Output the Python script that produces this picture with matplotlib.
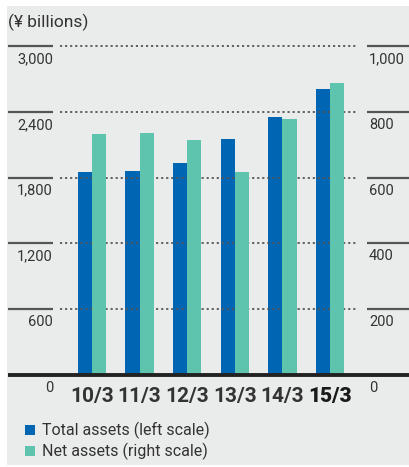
import matplotlib
matplotlib.use("Agg")
import matplotlib.pyplot as plt
from matplotlib.patches import Rectangle
import numpy as np

plt.rcParams["font.family"] = ["Liberation Sans Narrow", "Roboto", "DejaVu Sans"]

# data (¥ billions)
periods = ["10/3", "11/3", "12/3", "13/3", "14/3", "15/3"]
total_assets = [1855, 1864, 1936, 2155, 2355, 2609]   # left scale
net_assets = [733, 736, 715, 618, 779, 888]           # right scale
left_ticks = [0, 600, 1200, 1800, 2400, 3000]
right_ticks = [0, 200, 400, 600, 800, 1000]

blue = "#0066b3"
green = "#5fc4ae"
bg = "#eaeceb"

W, H = 409, 467
fig = plt.figure(figsize=(W / 100, H / 100), dpi=100)
fig.patch.set_facecolor("white")
fig.patches.append(Rectangle((7 / W, 2 / H), 1, (H - 8) / H, transform=fig.transFigure,
                             facecolor=bg, edgecolor="none", zorder=-10))

# axes span x 8..409 px, y baseline 375 px .. 3000 at 46 px
ax = fig.add_axes([8 / W, (H - 375) / H, (W - 8) / W, (375 - 46) / H])
ax.set_facecolor("none")
ax2 = ax.twinx()
ax.set_zorder(1)
ax2.set_zorder(2)
ax2.set_facecolor("none")

x = np.arange(len(periods))
step = 47.6
ax.set_xlim(-(92 - 8) / step, (409 - 92) / step)
ax.set_ylim(0, 3000)
ax2.set_ylim(0, 1000)

w = 0.3
ax.bar(x - w / 2, total_assets, width=w, color=blue, zorder=3)
ax2.bar(x + w / 2, net_assets, width=w, color=green, zorder=3)

for a in (ax, ax2):
    for s in a.spines.values():
        s.set_visible(False)
    a.set_yticks([])
    a.tick_params(length=0)
ax.set_xticks([])

# grid lines: solid stubs at both sides, dotted in the middle
tr = ax.get_yaxis_transform()
grid_y = left_ticks[1:]
ax.hlines(grid_y, 52 / 401, 350 / 401, transform=tr, colors="#555555",
          linewidths=1.3, linestyles=[(0, (1.2, 1.6))], clip_on=False, zorder=5)
ax2.hlines([v / 3 for v in grid_y], 0, 45 / 401, transform=ax2.get_yaxis_transform(),
           colors="#555555", linewidths=1.6, clip_on=False, zorder=7)
ax2.hlines([v / 3 for v in grid_y], 359 / 401, 1, transform=ax2.get_yaxis_transform(),
           colors="#555555", linewidths=1.6, clip_on=False, zorder=7)
ax2.hlines([0], 0, 1, transform=ax2.get_yaxis_transform(), colors="#222222",
           linewidths=2.8, clip_on=False, zorder=6)

# tick labels
for v in left_ticks:
    ax.text(45 / 401, v - 55, f"{v:,}", transform=tr,
            ha="right", va="top", fontsize=10.5, color="#333333")
for v in right_ticks:
    ax2.text(361 / 401, v - 55 / 3, f"{v:,}", transform=ax2.get_yaxis_transform(),
             ha="left", va="top", fontsize=10.5, color="#333333", clip_on=False)

for i, p in enumerate(periods):
    last = i == len(periods) - 1
    ax.text(i, -110, p, ha="center", va="top", fontsize=15,
            fontweight="black" if last else "bold",
            color="#1a1a1a" if last else "#333333")

fig.text(8 / W, 1 - 22 / H, "(¥ billions)", ha="left", va="center",
         fontsize=12.5, color="#333333")

# legend
for k, (lab, col) in enumerate([("Total assets (left scale)", blue),
                                 ("Net assets (right scale)", green)]):
    yc = 1 - (430 + k * 21) / H
    fig.patches.append(Rectangle((25 / W, yc - 5 / H), 10 / W, 10 / H,
                                 transform=fig.transFigure, facecolor=col,
                                 edgecolor="none"))
    fig.text(42 / W, yc, lab, ha="left", va="center", fontsize=11.5, color="#333333")

fig.savefig("out.png", dpi=100, facecolor=fig.get_facecolor())
